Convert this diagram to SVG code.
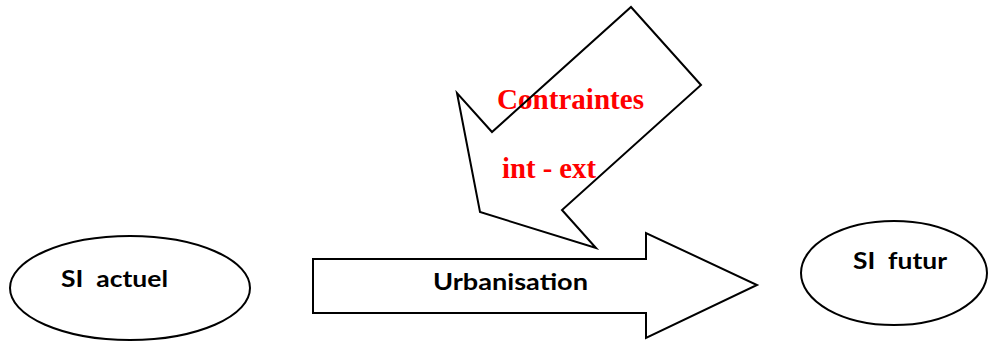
<svg xmlns="http://www.w3.org/2000/svg" width="989" height="342" viewBox="0 0 989 342">
<style>
.shape{fill:#fff;stroke:#000;stroke-width:2;stroke-linejoin:miter}
.outline{fill:none;stroke:#000;stroke-width:2;stroke-linejoin:miter}
.lbl{font-family:Lato,"Open Sans","Liberation Sans",sans-serif;font-weight:bold;font-size:22px;fill:#000;white-space:pre}
.red{font-family:"Liberation Serif","Times New Roman",serif;font-weight:bold;font-size:29px;fill:#ff0000}
</style>
<rect width="989" height="342" fill="#fff"/>
<g id="si-actuel">
<ellipse class="shape" cx="130" cy="288" rx="120" ry="52"/>
<text class="lbl" x="61" y="287" textLength="107" lengthAdjust="spacingAndGlyphs" xml:space="preserve">SI  actuel</text>
</g>
<g id="si-futur">
<ellipse class="shape" cx="894" cy="273" rx="93" ry="52"/>
<text class="lbl" x="853" y="269" textLength="94" lengthAdjust="spacingAndGlyphs" xml:space="preserve">SI  futur</text>
</g>
<g id="connectors">
<g id="urbanisation">
<polygon class="shape" points="313,259 646,259 646,233 757,285 646,338 646,313 313,313"/>
<text class="lbl" x="433" y="290" textLength="155" lengthAdjust="spacingAndGlyphs">Urbanisation</text>
</g>
<g id="contraintes">
<polygon points="631,7 701,85 562,210 596,248 480,212 457,93 492,132" fill="#fff"/>
<text class="red" x="497" y="109" textLength="147" lengthAdjust="spacingAndGlyphs">Contraintes</text>
<text class="red" x="502" y="178" textLength="94" lengthAdjust="spacingAndGlyphs">int - ext</text>
<polygon class="outline" points="631,7 701,85 562,210 596,248 480,212 457,93 492,132"/>
</g>
</g>
</svg>
